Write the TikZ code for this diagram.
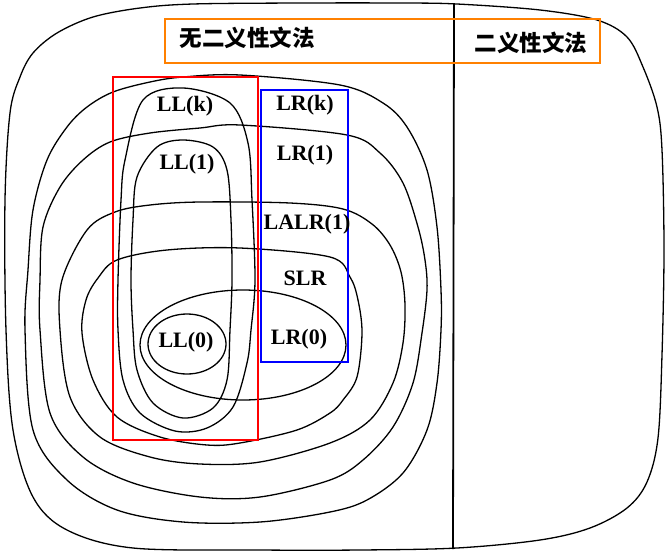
\documentclass[tikz,border=0pt]{standalone}
\usepackage{fontspec}
\setmainfont{Liberation Serif}
\newfontfamily\cjk{Noto Sans CJK SC}
\begin{document}
\begin{tikzpicture}[x=1pt,y=-1pt,
  curve/.style={draw=black,line width=1.3pt},
  lbl/.style={inner sep=0pt,font=\bfseries\fontsize{22}{25}\selectfont},
  zh/.style={inner sep=0pt,font=\cjk\bfseries\fontsize{22.5}{25}\selectfont},
  frame/.style={line width=2pt}]
\useasboundingbox[fill=white] (0,0) rectangle (667,555);
% outer region
\draw[curve] plot[smooth cycle,tension=0.55] coordinates {
 (193,4) (300,3) (400,3) (457,4) (540,10) (597,20) (627,37) (643,67) (657,107)
 (662,150) (664,250) (662,355) (658,438) (647,482) (627,508) (590,528) (540,540)
 (457,548) (360,550) (260,550) (133,548) (67,530) (33,497) (13,430) (6,330)
 (5,200) (10,113) (20,77) (33,53) (57,33) (93,17) (140,8)};
\draw[line width=1.8pt] (454,4) -- (453,549);
% LR(k)
\draw[curve] plot[smooth cycle,tension=0.55] coordinates {
 (183,77) (240,75) (340,85) (383,103) (407,127) (427,170) (437,227) (441,290)
 (441,330) (437,383) (427,430) (403,473) (367,500) (330,512) (260,522) (183,522)
 (117,510) (67,480) (33,430) (25,330) (28,270) (33,210) (47,160) (67,127)
 (87,107) (113,92) (150,82)};
% LR(1)
\draw[curve] plot[smooth cycle,tension=0.55] coordinates {
 (200,128) (240,125) (347,135) (380,153) (403,183) (418,227) (425,260) (427,290)
 (422,333) (413,383) (393,427) (363,460) (330,480) (260,497) (200,497) (133,483)
 (83,457) (50,413) (40,330) (40,280) (43,227) (60,187) (83,160) (110,142) (150,133)};
% LALR(1)
\draw[curve] plot[smooth cycle,tension=0.55] coordinates {
 (200,202) (290,203) (343,209) (372,224) (390,245) (401,272) (405,305) (403,343) (393,383)
 (370,420) (330,443) (260,462) (200,464) (150,457) (100,437) (70,397) (60,330)
 (62,280) (87,230) (115,212) (150,205)};
% SLR
\draw[curve] plot[smooth cycle,tension=0.55] coordinates {
 (167,250) (240,248) (330,257) (350,277) (358,300) (362,333) (357,377) (343,400)
 (330,413) (297,430) (240,443) (207,445) (160,437) (117,417) (93,380) (82,333)
 (86,300) (98,278) (117,260)};
% LR(0)
\draw[curve] (243,345) ellipse [x radius=103, y radius=55];
% LL(k)
\draw[curve] plot[smooth cycle,tension=0.55] coordinates {
 (183,88) (230,103) (248,143) (252,200) (255,280) (251,330) (247,363) (233,407)
 (207,428) (175,431) (140,413) (123,380) (118,330) (118,280) (121,200) (125,160) (143,100)};
% LL(1)
\draw[curve] plot[smooth cycle,tension=0.55] coordinates {
 (183,140) (213,147) (227,170) (231,220) (232,280) (230,330) (227,380) (213,408)
 (183,418) (153,403) (137,370) (133,330) (131,280) (133,220) (137,177) (157,147)};
% LL(0)
\draw[curve] (187,344) ellipse [x radius=39, y radius=30];
% coloured frames
\draw[frame,draw={rgb,255:red,255;green,128;blue,0}] (165,19) rectangle (600,63);
\draw[frame,draw=red] (113,77) rectangle (258,440);
\draw[frame,draw=blue] (261,90) rectangle (348,362);
% labels
\node[zh] (unamb) at (247,38) {无二义性文法};
\node[zh] (amb) at (531,43) {二义性文法};
\node[lbl] (llk) at (185,106) {LL(k)};
\node[lbl] (ll1) at (187,164) {LL(1)};
\node[lbl] (ll0) at (186,342) {LL(0)};
\node[lbl] (lrk) at (305,105) {LR(k)};
\node[lbl] (lr1) at (305,155) {LR(1)};
\node[lbl] (lalr) at (307,224) {LALR(1)};
\node[lbl] (slr) at (305,278) {SLR};
\node[lbl] (lr0) at (299,339) {LR(0)};
\end{tikzpicture}
\end{document}
